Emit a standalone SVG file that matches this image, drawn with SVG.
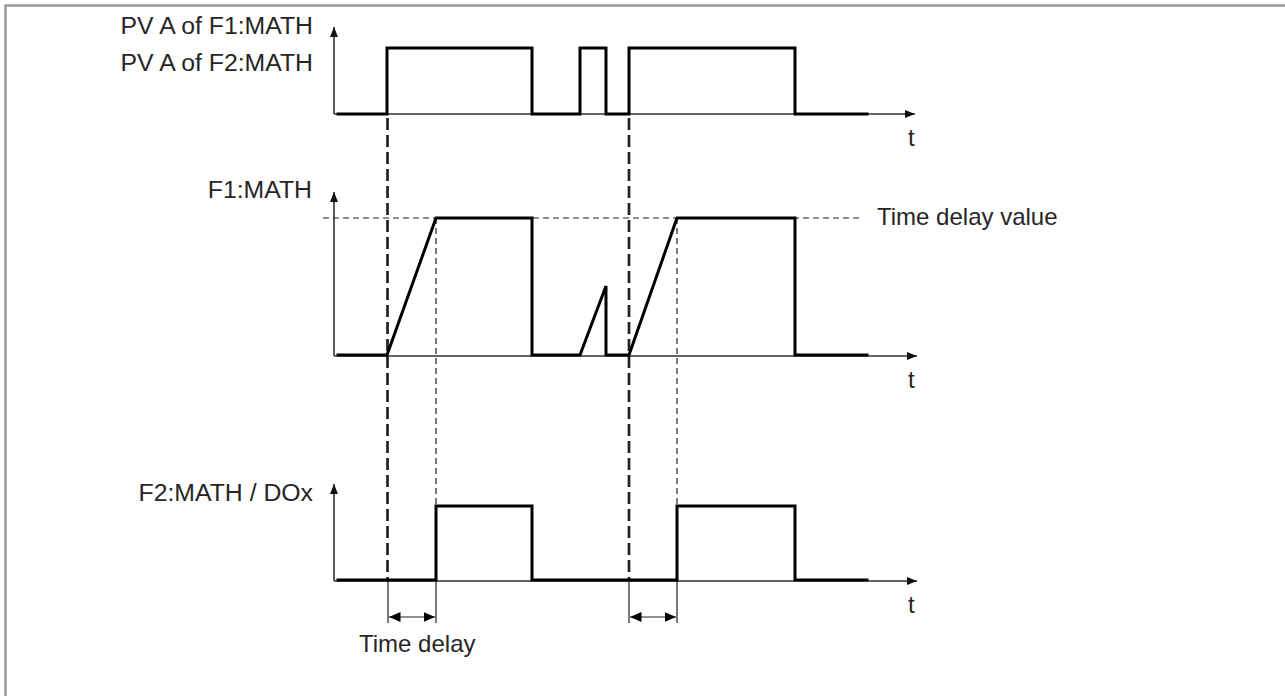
<svg xmlns="http://www.w3.org/2000/svg" width="1285" height="696" viewBox="0 0 1285 696">
<style>
.lbl{font-family:"Liberation Sans",Arial,Helvetica,sans-serif;font-size:24px;fill:#262626}
.big{font-size:24.8px}
.axis{stroke:#333;stroke-width:1.6;fill:none}
.sig{stroke:#000;stroke-width:3;fill:none;stroke-linejoin:miter;stroke-linecap:square}
.dthick{stroke:#222;stroke-width:2.7;stroke-dasharray:12 5;fill:none}
.dthin{stroke:#222;stroke-width:1.2;stroke-dasharray:6 4;fill:none}
.thin{stroke:#222;stroke-width:1.2;fill:none}
.frame{stroke:#9a9a9a;stroke-width:2.6;fill:none}
</style>
<defs>
<marker id="ah" markerUnits="userSpaceOnUse" markerWidth="11" markerHeight="10" viewBox="0 0 11 10" refX="10" refY="5" orient="auto">
<path d="M0,1 L10,5 L0,9 z" fill="#111"/>
</marker>
<marker id="dh" markerUnits="userSpaceOnUse" markerWidth="12" markerHeight="12" viewBox="0 0 12 12" refX="11.5" refY="6" orient="auto-start-reverse">
<path d="M0,1 L11.5,6 L0,11 z" fill="#000"/>
</marker>
</defs>
<rect width="1285" height="696" fill="#fff"/>
<path class="frame" d="M5.5,696 V5.5 H1285"/>

<g id="label-pv1"><text class="lbl big" x="313" y="34" text-anchor="end">PV A of F1:MATH</text></g>
<g id="label-pv2"><text class="lbl big" x="313" y="71" text-anchor="end">PV A of F2:MATH</text></g>
<g id="label-f1"><text class="lbl big" x="312" y="198" text-anchor="end">F1:MATH</text></g>
<g id="label-f2"><text class="lbl big" x="313" y="501" text-anchor="end">F2:MATH / DOx</text></g>
<g id="label-tdv"><text class="lbl" x="877" y="225">Time delay value</text></g>
<g id="label-td"><text class="lbl" x="359" y="652">Time delay</text></g>
<g id="label-t1"><text class="lbl" x="908" y="146">t</text></g>
<g id="label-t2"><text class="lbl" x="908" y="388">t</text></g>
<g id="label-t3"><text class="lbl" x="908" y="613">t</text></g>

<g id="axes">
<path class="axis" d="M334,114 V27" marker-end="url(#ah)"/>
<path class="axis" d="M334,114 H915" marker-end="url(#ah)"/>
<path class="axis" d="M334,356 V192" marker-end="url(#ah)"/>
<path class="axis" d="M334,356 H917" marker-end="url(#ah)"/>
<path class="axis" d="M334,581 V484" marker-end="url(#ah)"/>
<path class="axis" d="M334,581 H917" marker-end="url(#ah)"/>
</g>

<g id="guides">
<path class="dthin" d="M323,218 H860"/>
<path class="dthick" d="M387.5,118 V581"/>
<path class="dthick" d="M629,118 V581"/>
<path class="dthin" d="M436,218 V581"/>
<path class="dthin" d="M677,218 V581"/>
<path class="thin" d="M388,581 V623 M436,581 V623 M629,581 V623 M677,581 V623"/>
</g>

<g id="signal-pv"><path class="sig" d="M338,114 H387 V48 H532 V114 H580 V48 H606 V114 H629 V48 H795 V114 H867"/></g>
<g id="signal-f1"><path class="sig" d="M338,355 H387 L436,218 H532 V355 H580 L606,286 V355 H629 L677,218 H795 V355 H867"/></g>
<g id="signal-f2"><path class="sig" d="M338,580 H436 V506 H532 V580 H677 V506 H795 V580 H867"/></g>

<g id="connectors">
<path class="thin" d="M389,617 H435" marker-start="url(#dh)" marker-end="url(#dh)"/>
<path class="thin" d="M630,617 H676" marker-start="url(#dh)" marker-end="url(#dh)"/>
</g>
</svg>
